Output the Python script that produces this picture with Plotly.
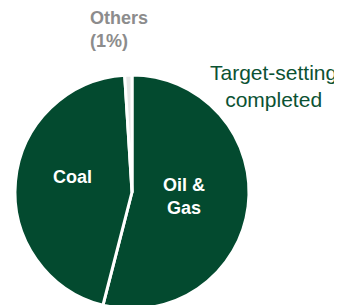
import plotly.graph_objects as go

labels = ["Oil & Gas", "Coal", "Others"]
values = [54, 45, 1]
colors = ["#034a2f", "#034a2f", "#e6e6e6"]

OFF = 8  # default page body margin
W, H = 334, 310

def sx(x):
    return (x - OFF) / W

def sy(y):
    return 1 - (y - OFF) / H

fig = go.Figure(go.Pie(
    labels=labels, values=values, sort=False, direction="clockwise", rotation=0,
    marker=dict(colors=colors, line=dict(color="white", width=3)),
    textinfo="none", hoverinfo="skip", showlegend=False,
    domain=dict(x=[sx(15), sx(249)], y=[sy(309), sy(75)]),
))

anns = [
    ("<b>Others</b><br><b>(1%)</b>", 88, 30, "#8c8c8c", 18, "left"),
    ("<b>Coal</b>", 72, 177, "white", 18, "center"),
    ("<b>Oil &</b><br><b>Gas</b>", 184, 196, "white", 18, "center"),
    ("Target-setting<br>completed", 273, 86, "#0b5233", 21, "center"),
]
for t, x, y, c, s, al in anns:
    fig.add_annotation(text=t, x=sx(x), y=sy(y), xref="paper", yref="paper",
                       xanchor="left" if al == "left" else "center", yanchor="middle",
                       align=al, showarrow=False,
                       font=dict(family="Liberation Sans, Arial", size=s, color=c))

fig.update_layout(width=W, height=H, margin=dict(l=0, r=0, t=0, b=0),
                  paper_bgcolor="white", plot_bgcolor="white")
fig.write_html("out.html")
